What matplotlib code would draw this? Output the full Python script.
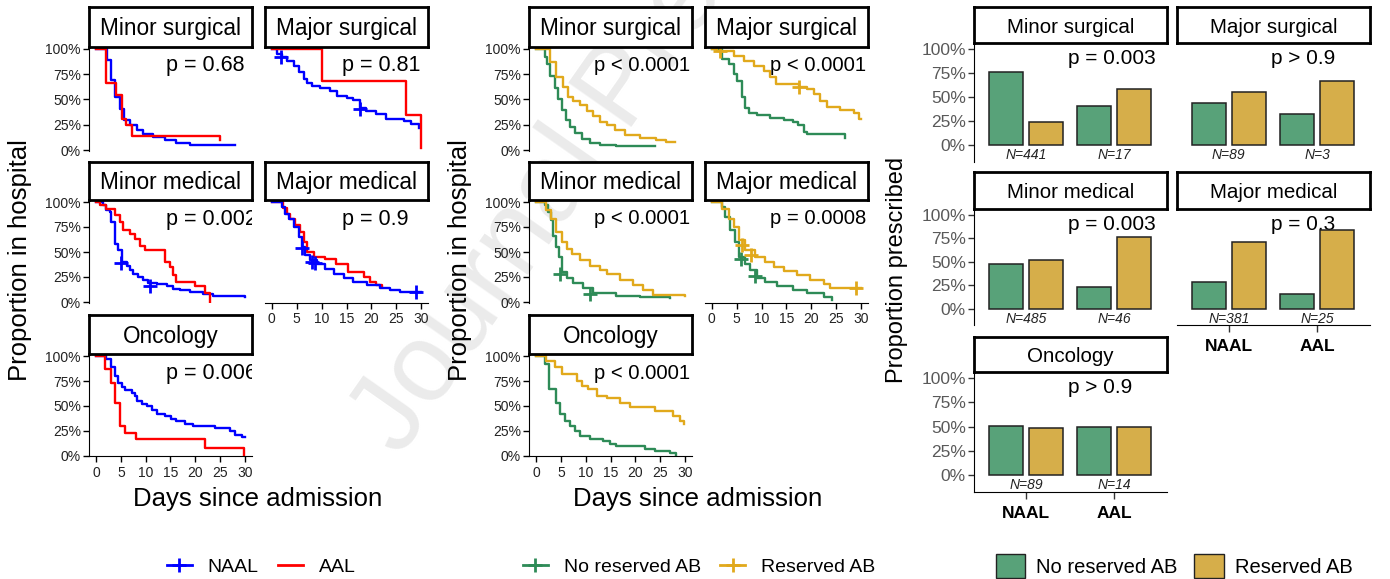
import matplotlib
matplotlib.use("Agg")
import matplotlib.pyplot as plt
from matplotlib.lines import Line2D
from matplotlib.patches import Patch

plt.rcParams['font.family'] = ['Liberation Sans', 'DejaVu Sans']

# ---- data: survival curves, NAAL vs AAL (left block) ----
panels = ["Minor surgical", "Major surgical", "Minor medical", "Major medical", "Oncology"]

ms_naal_t = [0, 2.3, 3.0, 3.8, 4.8, 5.6, 6.8, 8.2, 9.5, 11.5, 13.9, 16.2, 18.9, 27.9]
ms_naal_s = [1, .89, .69, .52, .41, .30, .25, .20, .16, .13, .10, .066, .056, .056]
ms_aal_t = [0, 2.0, 4.0, 5.2, 6.0, 7.2, 25.0]
ms_aal_s = [1, .66, .54, .31, .25, .14, .10]

js_naal_t = [0, 1, 2, 3, 4.4, 5.4, 6.4, 7, 8, 9.7, 11.7, 13, 15, 16.4, 17.8, 19, 21, 23, 26.5, 27.9, 29.5]
js_naal_s = [1, .95, .92, .88, .83, .77, .70, .66, .63, .61, .58, .53, .51, .49, .42, .39, .36, .31, .29, .26, .22]
js_naal_cx = [1.9, 17.8]
js_naal_cy = [.92, .41]
js_aal_t = [0, 10, 27, 30]
js_aal_s = [1, .68, .35, .02]

mm_naal_t = [0, 1.5, 2.1, 2.8, 3.1, 3.9, 4.5, 5.2, 6.2, 6.8, 7.5, 8.5, 9.5, 10.5, 12.2, 14.2, 15.5, 16.9, 18.9, 21.6, 23.6, 30]
mm_naal_s = [1, .97, .92, .90, .80, .58, .52, .40, .36, .32, .28, .25, .22, .19, .18, .16, .13, .12, .10, .08, .06, .05]
mm_naal_cx = [5.0, 10.9]
mm_naal_cy = [.39, .16]
mm_aal_t = [0, 0.8, 2.1, 3.8, 4.8, 5.5, 6.8, 7.8, 8.8, 9.8, 13.9, 14.9, 15.5, 16.2, 19.9, 21.9, 23]
mm_aal_s = [1, .97, .93, .87, .80, .72, .68, .63, .56, .52, .40, .35, .27, .20, .16, .09, 0]

jm_naal_t = [0, 2, 2.7, 3.4, 4.4, 5.4, 6, 6.7, 7.7, 9, 10.7, 12.4, 14.4, 16.4, 19.1, 21.8, 23.8, 25.8, 30]
jm_naal_s = [1, .95, .88, .83, .75, .65, .55, .47, .42, .38, .33, .28, .24, .20, .17, .14, .12, .10, .10]
jm_naal_cx = [6.0, 8.0, 8.7, 28.9]
jm_naal_cy = [.54, .40, .39, .10]
jm_aal_t = [0, 2.3, 3, 3.7, 4.7, 5.7, 6.4, 7, 8.4, 10.7, 12.8, 15.4, 18.5, 19.8, 21, 22.1]
jm_aal_s = [1, .94, .88, .83, .77, .70, .60, .50, .45, .43, .38, .30, .25, .20, .17, .15]

on_naal_t = [0, 2.1, 3.1, 3.8, 4.5, 5.2, 5.8, 7.2, 7.8, 8.3, 9.2, 10.2, 11.2, 12.2, 13.9, 15.2, 16.2, 17.9, 19.5, 23.9, 26.9, 27.9, 29.3, 30]
on_naal_s = [1, .97, .89, .80, .73, .69, .66, .63, .60, .55, .52, .50, .46, .42, .40, .37, .35, .32, .30, .28, .25, .21, .19, .19]
on_aal_t = [0, 1.8, 3, 3.8, 4.8, 5.8, 8, 21.9, 29.9]
on_aal_s = [1, .87, .73, .53, .30, .23, .17, .08, 0]

p_left = ["p = 0.68", "p = 0.81", "p = 0.002", "p = 0.9", "p = 0.006"]

# ---- data: survival curves, no reserved vs reserved AB (middle block) ----
ms_no_t = [0, 1.8, 2.3, 2.8, 3.8, 4.5, 5.2, 6, 6.8, 7.8, 9.2, 10.8, 12.9, 16.2, 23.9]
ms_no_s = [1, .92, .85, .73, .61, .50, .40, .30, .23, .17, .11, .07, .05, .04, .04]
ms_res_t = [0, 2.8, 4.1, 5.5, 6.5, 7.5, 8.8, 10.2, 11.5, 12.9, 14.2, 15.9, 17.9, 20.9, 24.2, 26.2, 27.9]
ms_res_s = [1, .87, .72, .62, .52, .48, .45, .39, .34, .28, .25, .20, .15, .12, .10, .08, .08]

js_no_t = [0, 2, 3.4, 4.4, 5, 6, 6.7, 7.4, 9.1, 11.7, 14.4, 16.4, 17.4, 18.5, 19.1, 26.8]
js_no_s = [1, .90, .85, .75, .68, .52, .42, .37, .35, .32, .30, .28, .25, .18, .16, .12]
js_res_t = [0, 1, 4.4, 6.4, 8.4, 10.4, 11.7, 12.8, 17.6, 19.1, 20.5, 21.8, 23.2, 25.8, 28.5, 29.5, 30]
js_res_s = [1, .98, .93, .88, .83, .78, .72, .65, .62, .60, .55, .48, .43, .40, .37, .31, .31]
js_res_cx = [1.7, 17.6]
js_res_cy = [.98, .62]

mm_no_t = [0, 1.8, 2.5, 3.1, 3.5, 4, 4.7, 5.2, 6.2, 7.5, 9.5, 11.5, 16.2, 20.9, 26.9]
mm_no_s = [1, .97, .90, .82, .66, .55, .45, .30, .24, .19, .14, .09, .06, .05, .04]
mm_no_cx = [4.9, 10.9]
mm_no_cy = [.28, .08]
mm_res_t = [0, 2.1, 3.1, 4.1, 5.2, 6.2, 7.2, 8.8, 10.8, 12.9, 14.2, 16.9, 19.5, 21.5, 23.6, 30]
mm_res_s = [1, .92, .83, .70, .60, .53, .48, .42, .36, .32, .28, .22, .17, .12, .07, .06]

jm_no_t = [0, 2, 2.7, 3.7, 4.7, 5.4, 6.7, 7.7, 9.1, 10.7, 13.1, 16.4, 19.1, 22.5, 24.2]
jm_no_s = [1, .95, .85, .72, .60, .45, .38, .32, .24, .20, .16, .12, .09, .05, .02]
jm_no_cx = [5.9, 8.7]
jm_no_cy = [.43, .26]
jm_res_t = [0, 2, 3.4, 4.4, 5.4, 6.7, 8.7, 10.7, 12.4, 14.4, 17.1, 19.8, 22.5, 23.8, 30]
jm_res_s = [1, .93, .83, .75, .62, .52, .45, .40, .35, .31, .27, .22, .18, .14, .14]
jm_res_cx = [6.0, 7.9, 28.9]
jm_res_cy = [.57, .47, .14]

on_no_t = [0, 1.8, 2.7, 4, 4.8, 5.8, 6.8, 7.8, 8.8, 10.8, 13.5, 14.9, 16.2, 21.9, 23.9, 26.9, 28.1]
on_no_s = [1, .92, .67, .53, .42, .35, .30, .25, .20, .17, .15, .12, .10, .07, .05, .03, 0]
on_res_t = [0, 2.1, 3.8, 5.2, 8.2, 9.2, 10.5, 12.2, 14.2, 16.9, 18.9, 23.9, 27.6, 28.9, 29.9]
on_res_s = [1, .95, .89, .82, .75, .70, .67, .60, .58, .53, .49, .45, .40, .35, .32]

p_mid = ["p < 0.0001", "p < 0.0001", "p < 0.0001", "p = 0.0008", "p < 0.0001"]

# ---- data: proportion prescribed (right block) ----
groups = ["NAAL", "AAL"]
bar_no = [[0.76, 0.41], [0.44, 0.33], [0.48, 0.23], [0.29, 0.16], [0.51, 0.50]]
bar_res = [[0.24, 0.59], [0.55, 0.67], [0.52, 0.77], [0.71, 0.84], [0.49, 0.50]]
bar_n = [[441, 17], [89, 3], [485, 46], [381, 25], [89, 14]]
p_right = ["p = 0.003", "p > 0.9", "p = 0.003", "p = 0.3", "p > 0.9"]

BLUE, RED = "#0000FF", "#FF0000"
GREEN, GOLD = "#2E8B57", "#E1A91C"
BAR_GREEN, BAR_GOLD = "#58A279", "#D6AE4A"

W, H = 1390, 579
fig = plt.figure(figsize=(13.9, 5.79), dpi=100)


def add_px(x0, y0, x1, y1):
    return fig.add_axes([x0 / W, 1 - y1 / H, (x1 - x0) / W, (y1 - y0) / H])


def strip(x0, y0, x1, y1, label, size):
    sa = add_px(x0, y0, x1, y1)
    sa.set_xticks([])
    sa.set_yticks([])
    sa.set_zorder(2)
    for sp in sa.spines.values():
        sp.set_linewidth(2)
    sa.text(0.5, 0.45, label, ha="center", va="center", fontsize=size, transform=sa.transAxes)


pct = ["0%", "25%", "50%", "75%", "100%"]

# watermark
fig.text(400 / W, 1 - 458 / H, "Journal Pre-proof", rotation=55, rotation_mode="anchor",
         ha="left", va="baseline", fontsize=80, color="#ebebeb", zorder=-5)

# KM panel layout (pixels)
km_cols = [(89.3, 251.7), (265, 428)]
km_rows = [((7.3, 46.7), (46.7, 150.7)), ((162, 200), (200, 302.5)), ((315, 354.3), (354.3, 456))]
km_pos = [(0, 0), (0, 1), (1, 0), (1, 1), (2, 0)]
km_bottom = [False, False, False, True, True]


def km_block(dx, curves, pvals, px, psize):
    for i, name in enumerate(panels):
        r, c = km_pos[i]
        x0, x1 = km_cols[c]
        (sy0, sy1), (ay0, ay1) = km_rows[r]
        strip(x0 + dx, sy0, x1 + dx, sy1, name, 16.3)
        ax = add_px(x0 + dx, ay0, x1 + dx, ay1)
        ax.patch.set_alpha(0)
        for t, s, cx, cy, col in curves[i]:
            ax.step(t, s, where="post", color=col, lw=1.7)
            if cx:
                ax.plot(cx, cy, "+", color=col, ms=10, mew=2)
        ax.text(px, 0.83, pvals[i], fontsize=psize, ha="left", va="center", clip_on=True)
        ax.set_xlim(-1.35, 31.35)
        ax.set_ylim(-0.005, 1.02)
        ax.spines["top"].set_visible(False)
        ax.spines["right"].set_visible(False)
        if c == 0:
            ax.set_yticks([0, .25, .5, .75, 1])
            ax.set_yticklabels(pct, fontsize=10, color="#222222")
            ax.tick_params(axis="y", length=4, width=1, pad=2)
        else:
            ax.spines["left"].set_visible(False)
            ax.tick_params(axis="y", left=False, labelleft=False)
        if km_bottom[i]:
            ax.set_xticks([0, 5, 10, 15, 20, 25, 30])
            ax.tick_params(axis="x", length=4, width=1, labelsize=10, labelcolor="#222222", pad=3)
        else:
            ax.spines["bottom"].set_visible(False)
            ax.tick_params(axis="x", bottom=False, labelbottom=False)


left_curves = [
    [(ms_naal_t, ms_naal_s, None, None, BLUE), (ms_aal_t, ms_aal_s, None, None, RED)],
    [(js_naal_t, js_naal_s, js_naal_cx, js_naal_cy, BLUE), (js_aal_t, js_aal_s, None, None, RED)],
    [(mm_naal_t, mm_naal_s, mm_naal_cx, mm_naal_cy, BLUE), (mm_aal_t, mm_aal_s, None, None, RED)],
    [(jm_aal_t, jm_aal_s, None, None, RED), (jm_naal_t, jm_naal_s, jm_naal_cx, jm_naal_cy, BLUE)],
    [(on_naal_t, on_naal_s, None, None, BLUE), (on_aal_t, on_aal_s, None, None, RED)],
]
mid_curves = [
    [(ms_no_t, ms_no_s, None, None, GREEN), (ms_res_t, ms_res_s, None, None, GOLD)],
    [(js_no_t, js_no_s, None, None, GREEN), (js_res_t, js_res_s, js_res_cx, js_res_cy, GOLD)],
    [(mm_no_t, mm_no_s, mm_no_cx, mm_no_cy, GREEN), (mm_res_t, mm_res_s, None, None, GOLD)],
    [(jm_no_t, jm_no_s, jm_no_cx, jm_no_cy, GREEN), (jm_res_t, jm_res_s, jm_res_cx, jm_res_cy, GOLD)],
    [(on_no_t, on_no_s, None, None, GREEN), (on_res_t, on_res_s, None, None, GOLD)],
]

km_block(0, left_curves, p_left, 14, 15.5)
km_block(440, mid_curves, p_mid, 11.7, 14.6)

for xc in (20, 460):
    fig.text(xc / W, 1 - 260 / H, "Proportion in hospital", rotation=90, ha="center", va="center", fontsize=18.5)
for xc in (258, 698):
    fig.text(xc / W, 1 - 499 / H, "Days since admission", ha="center", va="center", fontsize=18.5)

# bar block
bar_cols = [(974.3, 1166.7), (1176.7, 1370)]
bar_rows = [((7.3, 43.3), (43.3, 161.7)), ((172.3, 209.3), (209.3, 325)), ((337.3, 372.3), (372.3, 491.7))]
for i, name in enumerate(panels):
    r, c = km_pos[i]
    x0, x1 = bar_cols[c]
    (sy0, sy1), (ay0, ay1) = bar_rows[r]
    strip(x0, sy0, x1, sy1, name, 14.8)
    ax = add_px(x0, ay0, x1, ay1)
    ax.patch.set_alpha(0)
    pos = [1, 2]
    ax.bar([p - 0.225 for p in pos], bar_no[i], width=0.385, color=BAR_GREEN, edgecolor="#222222", lw=1.1, zorder=3)
    ax.bar([p + 0.225 for p in pos], bar_res[i], width=0.385, color=BAR_GOLD, edgecolor="#222222", lw=1.1, zorder=3)
    for p, n in zip(pos, bar_n[i]):
        ax.text(p, -0.105, f"N={n}", ha="center", va="center", fontsize=10, style="italic", color="#222222")
    ax.text(1.48, 0.9, p_right[i], ha="left", va="center", fontsize=15, zorder=1)
    ax.set_xlim(0.41, 2.6)
    ax.set_ylim(-0.17, 1.06)
    ax.spines["top"].set_visible(False)
    ax.spines["right"].set_visible(False)
    if c == 0:
        ax.set_yticks([0, .25, .5, .75, 1])
        ax.set_yticklabels(pct, fontsize=12.5, color="#595959")
        ax.tick_params(axis="y", length=4, width=1, color="#333333", pad=2)
    else:
        ax.spines["left"].set_visible(False)
        ax.tick_params(axis="y", left=False, labelleft=False)
    if km_bottom[i]:
        ax.set_xticks(pos)
        ax.set_xticklabels(groups, fontsize=12.5, fontweight="bold")
        ax.tick_params(axis="x", length=5, width=1, color="#333333", pad=5)
    else:
        ax.spines["bottom"].set_visible(False)
        ax.tick_params(axis="x", bottom=False, labelbottom=False)

fig.text(897 / W, 1 - 270 / H, "Proportion prescribed", rotation=90, ha="center", va="center", fontsize=17)

# legends
h_left = [Line2D([], [], color=BLUE, lw=2, marker="+", ms=10, mew=2), Line2D([], [], color=RED, lw=2)]
fig.legend(h_left, groups, loc="center", bbox_to_anchor=(261 / W, 1 - 567 / H), ncol=2, frameon=False,
           fontsize=14, handlelength=1.3, handletextpad=0.8, columnspacing=1.0)
h_mid = [Line2D([], [], color=GREEN, lw=2, marker="+", ms=10, mew=2),
         Line2D([], [], color=GOLD, lw=2, marker="+", ms=10, mew=2)]
fig.legend(h_mid, ["No reserved AB", "Reserved AB"], loc="center", bbox_to_anchor=(699 / W, 1 - 567 / H), ncol=2,
           frameon=False, fontsize=14, handlelength=1.3, handletextpad=0.8, columnspacing=1.0)
h_right = [Patch(facecolor=BAR_GREEN, edgecolor="#222222"), Patch(facecolor=BAR_GOLD, edgecolor="#222222")]
fig.legend(h_right, ["No reserved AB", "Reserved AB"], loc="center", bbox_to_anchor=(1174 / W, 1 - 566 / H), ncol=2,
           frameon=False, fontsize=14.5, handlelength=1.45, handleheight=1.45, handletextpad=0.55, columnspacing=0.85)

fig.savefig("out.png", dpi=100)
